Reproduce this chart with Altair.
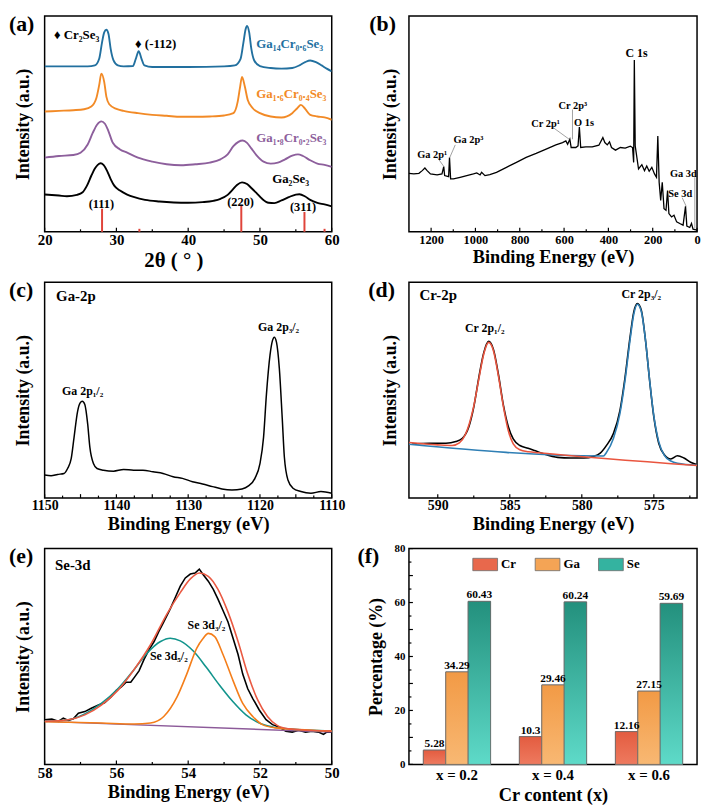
import altair as alt
import pandas as pd

FONT = "Liberation Serif"
W_L, W_R, H = 290, 291, 218
COL_GAP, ROW_GAP = 78, 51

# ---------------- (a) XRD ----------------
a_ticks_major = [20, 30, 40, 50, 60]
a_ticks_minor = [25, 35, 45, 55]
a_black = [(20.0,113),(22.0,110),(23.1,108),(24.5,112),(25.3,120),(25.9,140),(26.5,170),(27.0,192),(27.4,203),(27.8,208),
           (28.2,203),(28.7,185),(29.2,160),(29.7,140),(30.5,125),(31.5,113),(32.5,105),(34.0,97),(36.0,92),(38.0,89),
           (40.0,88),(42.0,90),(43.5,94),(44.5,100),(45.5,112),(46.2,128),(46.8,142),(47.5,150),(48.2,145),(48.8,133),
           (49.5,118),(50.3,100),(51.2,88),(52.0,87),(53.0,95),(54.0,105),(55.0,113),(55.5,114),(56.3,107),(57.0,97),
           (58.0,88),(59.0,83),(60.0,77)]
a_purple = [(20,225),(22,230),(24,233),(25,240),(26,265),(26.7,300),(27.3,325),(27.9,335),(28.4,328),(28.9,305),
            (29.5,270),(30.5,250),(31.5,240),(33,225),(35,213),(37,205),(39,202),(41,205),(43,210),(44.5,220),
            (45.5,235),(46.3,260),(47.0,273),(47.6,277),(48.2,270),(48.8,253),(49.5,233),(50.5,213),(51.5,207),
            (52.5,210),(53.5,220),(54.5,231),(55.3,235),(56,230),(57,217),(58,207),(59,203),(60,197)]
a_orange = [(20,365),(22,367),(24,369),(25.5,372),(26.5,380),(27.2,405),(27.6,445),(27.9,480),(28.3,455),(28.6,410),
            (29.0,387),(30,373),(31,367),(33,360),(35,355),(37,352),(39,349),(41,349),(43,350),(45,353),(46.3,360),
            (46.9,395),(47.2,435),(47.5,470),(47.9,440),(48.3,400),(49.0,375),(50,360),(51.5,350),(53,347),(54.5,360),
            (55.2,375),(55.7,385),(56.3,373),(57,355),(58,350),(59,347),(60,340)]
a_blue = [(20,502),(23,502),(26,502),(27,505),(27.6,525),(28.0,575),(28.3,605),(28.6,613),(28.9,600),(29.2,555),
          (29.6,520),(30.2,505),(31,502),(32.3,503),(32.7,525),(33.1,548),(33.5,525),(33.9,505),(35,500),(40,500),
          (45,502),(46.5,505),(47.3,525),(47.7,575),(48.0,615),(48.2,625),(48.5,605),(48.8,555),(49.2,520),(50,503),
          (51.5,497),(53,495),(54.5,497),(55.5,505),(56.3,515),(57.0,520),(57.8,515),(58.6,505),(59.3,495),(60,487)]
a_ref_pos = [28.0, 33.2, 47.4, 56.2, 59.0]
a_ref_h = [70, 9, 80, 60, 9]
a_texts = [(21.3, 596, "♦ Cr₂Se₃", "black"), (32.6, 569, "♦ (-112)", "black"),
           (49.5, 569, "Ga₁₄Cr₀.₆Se₃", "#22709f"), (49.5, 419, "Ga₁.₆Cr₀.₄Se₃", "#f28a26"),
           (49.5, 284, "Ga₁.₈Cr₀.₂Se₃", "#8d5f9c"), (51.7, 161, "Ga₂Se₃", "black")]
a_hkl = [(27.9, 84, "(111)"), (47.3, 90, "(220)"), (56.0, 76, "(311)")]

# ---------------- (b) XPS survey ----------------
b_ticks_major = [1200, 1000, 800, 600, 400, 200, 0]
b_ticks_minor = [1100, 900, 700, 500, 300, 100]
b_curve = [(1300,177),(1278,175),(1255,177),(1240,185),(1228,193),(1218,185),(1203,175),(1173,172),(1151,175),
           (1143,197),(1139,170),(1121,167),(1117,225),(1112,160),(1099,160),(1069,165),(1039,170),(1009,175),
           (994,178),(979,172),(972,180),(957,170),(935,173),(905,180),(860,195),(815,210),(771,225),(726,237),
           (681,250),(637,263),(607,270),(592,275),(584,265),(574,280),(568,255),(547,255),(537,260),(531,317),
           (525,255),(502,257),(473,257),(443,262),(425,285),(416,270),(405,263),(395,272),(386,255),(368,247),
           (346,255),(324,253),(301,259),(291,255),(286,210),(283,520),(279,260),(264,190),(249,203),(237,185),
           (227,199),(216,183),(204,195),(192,175),(183,165),(177,290),(171,150),(164,95),(157,150),(149,70),
           (140,65),(133,125),(127,55),(115,45),(104,50),(92,30),(78,25),(63,20),(52,77),(46,17),(33,13),(25,25),
           (18,8),(0,5)]
b_texts = [(1263, 233, "Ga 2p¹"), (1099, 277, "Ga 2p³"), (748, 325, "Cr 2p¹"), (625, 382, "Cr 2p³"),
           (555, 330, "O 1s"), (122, 175, "Ga 3d"), (130, 115, "Se 3d")]
b_c1s = [(323, 540, "C 1s")]
b_leaders = [(1170, 223, 1143, 198), (1091, 263, 1117, 223), (659, 320, 577, 280), (562, 370, 562, 280),
             (10, 165, 10, 10), (67, 103, 49, 77)]

# ---------------- (c) Ga-2p ----------------
c_ticks_major = [1150, 1145, 1140, 1135, 1130, 1125, 1120, 1115, 1110]
c_ticks_minor = [1147.5, 1142.5, 1137.5, 1132.5, 1127.5, 1122.5, 1117.5, 1112.5]
c_curve = [(1150.0,70),(1149.1,68),(1148.2,72),(1147.3,75),(1146.8,90),(1146.3,120),(1145.9,185),(1145.4,265),
           (1145.05,290),(1144.75,295),(1144.4,285),(1144.0,225),(1143.7,155),(1143.2,105),(1142.7,90),(1141.8,85),
           (1140.4,82),(1139.0,87),(1137.6,85),(1136.3,85),(1134.9,80),(1133.5,75),(1132.1,65),(1130.8,60),
           (1129.4,50),(1128.0,43),(1126.6,35),(1125.3,28),(1123.9,25),(1122.5,28),(1121.6,37),(1120.7,60),
           (1120.0,105),(1119.5,185),(1119.1,315),(1118.6,435),(1118.25,480),(1118.0,490),(1117.7,475),(1117.3,395),
           (1116.9,245),(1116.6,125),(1116.1,55),(1115.4,30),(1114.3,20),(1112.9,15),(1111.5,20),(1110.0,15)]
c_title = [(1148.4, 615, "Ga-2p")]
c_peaks = [(1144.7, 325, "Ga 2p₁/₂"), (1117.4, 520, "Ga 2p₃/₂")]

# ---------------- (d) Cr-2p ----------------
d_ticks_major = [590, 585, 580, 575]
d_ticks_minor = [587.5, 582.5, 577.5, 572.5]
d_data = [(591.8,164),(590.57,167),(589.43,167),(588.75,172),(588.29,182),(587.84,217),(587.5,277),(587.15,367),
          (586.81,442),(586.47,477),(586.13,452),(585.79,377),(585.44,282),(585.1,217),(584.76,180),(584.3,160),
          (583.73,152),(583.28,145),(582.6,134),(581.68,124),(580.77,122),(579.86,122),(579.17,127),(578.72,137),
          (578.26,162),(577.8,197),(577.35,267),(577.0,367),(576.66,487),(576.39,567),(576.14,592),(575.87,572),
          (575.57,477),(575.29,357),(575.0,247),(574.66,167),(574.27,132),(573.82,119),(573.36,129),(572.91,122),
          (572.45,109),(572.04,102)]
d_fit_12 = [(592.0,169),(590.0,162),(589.0,160),(588.5,168),(588.1,192),(587.8,228),(587.5,280),(587.15,362),
            (586.81,438),(586.47,474),(586.13,448),(585.79,372),(585.44,278),(585.1,205),(584.76,165),(584.3,147),
            (583.7,141),(583.0,138),(572.0,99)]
d_fit_32 = [(592.0,164),(578.5,128),(578.3,138),(577.8,182),(577.35,258),(577.0,358),(576.66,478),(576.39,560),
            (576.14,590),(575.87,568),(575.57,478),(575.29,358),(575.0,250),(574.66,172),(574.27,130),(573.82,113),
            (573.36,106),(572.0,100)]
d_title = [(591.26, 617, "Cr-2p")]
d_peaks = [(586.74, 517, "Cr 2p₁/₂"), (575.87, 622, "Cr 2p₃/₂")]

# ---------------- (e) Se-3d ----------------
e_ticks_major = [58, 56, 54, 52, 50]
e_ticks_minor = [57, 55, 53, 51]
e_data = [(58.0,137),(57.8,139),(57.62,132),(57.48,142),(57.34,135),(57.2,140),(57.06,157),(56.88,162),(56.7,172),
          (56.5,182),(56.33,189),(56.15,207),(56.0,227),(55.87,237),(55.73,252),(55.6,252),(55.5,267),(55.37,287),
          (55.23,322),(55.09,352),(54.95,377),(54.82,407),(54.68,437),(54.5,477),(54.36,512),(54.22,547),(54.08,572),
          (53.94,584),(53.81,587),(53.69,599),(53.58,582),(53.44,562),(53.3,537),(53.17,507),(53.03,472),(52.89,437),
          (52.75,387),(52.61,337),(52.48,277),(52.34,232),(52.2,202),(52.02,167),(51.83,137),(51.65,122),(51.47,115),
          (51.28,102),(51.1,99),(50.92,105),(50.73,99),(50.55,102),(50.37,99),(50.23,92),(50.14,99),(50.0,99)]
e_env = [(58,132),(57.34,137),(56.88,152),(56.42,182),(55.96,227),(55.5,292),(55.05,367),(54.59,462),(54.22,527),
         (53.94,569),(53.69,587),(53.44,577),(53.17,537),(52.89,467),(52.61,377),(52.34,277),(52.06,197),(51.79,147),
         (51.51,119),(51.19,109),(50.73,105),(50.0,102)]
e_d52 = [(58,132),(57.34,137),(56.88,155),(56.42,187),(55.96,232),(55.5,292),(55.14,342),(54.77,377),(54.5,387),
         (54.22,379),(53.85,347),(53.49,297),(53.12,242),(52.75,192),(52.39,152),(52.02,127),(51.65,115),(51.19,109),
         (50,102)]
e_d32 = [(58,131),(56.42,127),(55.5,124),(55.05,127),(54.68,147),(54.31,207),(54.04,277),(53.76,357),(53.58,387),
         (53.44,402),(53.26,392),(53.03,337),(52.75,257),(52.48,187),(52.2,147),(51.93,122),(51.56,112),(50.92,107),
         (50,102)]
e_base = [(58,132),(50,99)]
e_title = [(57.71, 612, "Se-3d")]
e_peaks = [(53.49, 427, "Se 3d₃/₂"), (54.54, 332, "Se 3d₅/₂")]

# ---------------- (f) composition ----------------
f_groups = ["x = 0.2", "x = 0.4", "x = 0.6"]
f_elements = ["Cr", "Ga", "Se"]
f_cr = [5.28, 10.3, 12.16]
f_ga = [34.29, 29.46, 27.15]
f_se = [60.43, 60.24, 59.69]
f_cr_txt = ["5.28", "10.3", "12.16"]
f_ga_txt = ["34.29", "29.46", "27.15"]
f_se_txt = ["60.43", "60.24", "59.69"]
f_ticks_major = list(range(0, 81, 10))
f_ticks_minor = list(range(5, 80, 10))
f_solid = ["#e8684c", "#f4a455", "#34b3a0"]
f_grad = {"Cr": ("#e35c40", "#ee7a5f"), "Ga": ("#f29a45", "#f8b873"), "Se": ("#23907d", "#5edac8")}


def df(pairs):
    return pd.DataFrame(pairs, columns=["x", "y"])


def line(pairs, color, width=1.6, interp="monotone"):
    return alt.Chart(df(pairs)).mark_line(color=color, strokeWidth=width, interpolate=interp, clip=True).encode(
        x="x:Q", y="y:Q")


def texts(items, size, align="left", color="black"):
    d = pd.DataFrame(items, columns=["x", "y", "t"])
    return alt.Chart(d).mark_text(font=FONT, fontWeight="bold", fontSize=size, align=align,
                                  baseline="middle", color=color).encode(x="x:Q", y="y:Q", text="t:N")


def xticks(values, length):
    return alt.Chart(pd.DataFrame({"x": values})).mark_rule(color="black", strokeWidth=1.2).encode(
        x="x:Q", y=alt.value(H), y2=alt.value(H - length))


def tag(label, dx):
    return alt.Chart(pd.DataFrame({"t": [label]})).mark_text(
        font=FONT, fontWeight="bold", fontSize=22, align="left", baseline="top").encode(
        x=alt.value(dx), y=alt.value(-2), text="t:N")


def xaxis(title, values, size, tsize=18.5, lpad=1, **kw):
    return alt.Axis(title=title, values=values, format="d", labelFontSize=size, titleFontSize=tsize,
                    labelPadding=lpad, titlePadding=2, **kw)


def yaxis_int(pad):
    return alt.Axis(title="Intensity (a.u.)", labels=False, titleFontSize=18, titlePadding=pad)


def base_enc(domain, ymax, xax, ypad, reverse=False):
    return dict(
        x=alt.X("x:Q", scale=alt.Scale(domain=domain, nice=False, zero=False, reverse=reverse), axis=xax),
        y=alt.Y("y:Q", scale=alt.Scale(domain=[0, ymax], nice=False, zero=False), axis=yaxis_int(ypad)))


# ----- panel a -----
a_ref_df = pd.DataFrame({"x": a_ref_pos, "y": a_ref_h, "y0": [0] * len(a_ref_pos)})
pa_first = alt.Chart(df(a_black)).mark_line(color="black", strokeWidth=1.9, interpolate="monotone").encode(
    **base_enc([20, 60], 655, xaxis("2θ ( ° )", a_ticks_major, 15, tsize=21, titleX=130), 12))
pa = alt.layer(
    pa_first,
    line(a_purple, "#8d5f9c", 1.9), line(a_orange, "#f28a26", 1.9), line(a_blue, "#22709f", 1.9),
    alt.Chart(a_ref_df).mark_rule(color="#e0443a", strokeWidth=2).encode(x="x:Q", y="y0:Q", y2="y:Q"),
    xticks(a_ticks_major, 4), xticks(a_ticks_minor, 2.5),
    *[texts([(x, y, t)], 13, color=c) for x, y, t, c in a_texts],
    texts(a_hkl, 12.5, align="center"),
    tag("(a)", -36),
).properties(width=W_L, height=H)

# ----- panel b -----
b_lead_df = pd.DataFrame(b_leaders, columns=["x", "y", "x2", "y2"])
pb_first = alt.Chart(df(b_curve)).mark_line(color="black", strokeWidth=1.3).encode(
    **base_enc([0, 1300], 653, xaxis("Binding Energy (eV)", b_ticks_major, 12.5, lpad=2), 10, reverse=True))
pb = alt.layer(
    pb_first,
    alt.Chart(b_lead_df).mark_rule(color="#8a8a8a", strokeWidth=0.8).encode(x="x:Q", y="y:Q", x2="x2:Q", y2="y2:Q"),
    xticks(b_ticks_major, 4), xticks(b_ticks_minor, 2.5),
    texts(b_texts, 10.5), texts(b_c1s, 12),
    tag("(b)", -40),
).properties(width=W_R, height=H)

# ----- panel c -----
pc_first = alt.Chart(df(c_curve)).mark_line(color="black", strokeWidth=1.5, interpolate="monotone").encode(
    **base_enc([1110, 1150], 657, xaxis("Binding Energy (eV)", c_ticks_major, 14), 12, reverse=True))
pc = alt.layer(
    pc_first,
    xticks(c_ticks_major, 4), xticks(c_ticks_minor, 2.5),
    texts(c_title, 15), texts(c_peaks, 12, align="center"),
    tag("(c)", -36),
).properties(width=W_L, height=H)

# ----- panel d -----
pd_first = alt.Chart(df(d_data)).mark_line(color="black", strokeWidth=1.6, interpolate="monotone").encode(
    **base_enc([572, 592], 657, xaxis("Binding Energy (eV)", d_ticks_major, 14), 10, reverse=True))
pdd = alt.layer(
    pd_first,
    line(d_fit_32, "#2f7fb5", 1.6), line(d_fit_12, "#e9553f", 1.6),
    xticks(d_ticks_major, 4), xticks(d_ticks_minor, 2.5),
    texts(d_title, 15), texts(d_peaks, 12, align="center"),
    tag("(d)", -41),
).properties(width=W_R, height=H)

# ----- panel e -----
pe_first = alt.Chart(df(e_data)).mark_line(color="black", strokeWidth=1.6).encode(
    **base_enc([50, 58], 662, xaxis("Binding Energy (eV)", e_ticks_major, 15), 12, reverse=True))
pe = alt.layer(
    pe_first,
    line(e_base, "#8c5a99", 1.4, "linear"), line(e_d52, "#12948c", 1.6), line(e_d32, "#f47e1a", 1.6),
    line(e_env, "#ea5a43", 1.6),
    xticks(e_ticks_major, 4), xticks(e_ticks_minor, 2.5),
    texts(e_title, 15), texts(e_peaks, 12, align="center"),
    tag("(e)", -36),
).properties(width=W_L, height=H)

# ----- panel f -----
rows = []
for el, vals, labs in (("Cr", f_cr, f_cr_txt), ("Ga", f_ga, f_ga_txt), ("Se", f_se, f_se_txt)):
    for g, v, t in zip(f_groups, vals, labs):
        rows.append({"group": g, "element": el, "pct": v, "label": t})
fdf = pd.DataFrame(rows)

# legend sits inside panel (f); legend coordinates are relative to the first panel's origin
LEG_X = W_L + COL_GAP + 64
LEG_Y = 2 * (H + ROW_GAP) + 3

fx = alt.X("group:N", scale=alt.Scale(domain=f_groups, paddingInner=0.3, paddingOuter=0.15),
           axis=alt.Axis(title="Cr content (x)", labelAngle=0, labelFontSize=15, labelPadding=3,
                         titleFontSize=18.5, titlePadding=3))
fxo = alt.XOffset("element:N", scale=alt.Scale(domain=f_elements, paddingInner=0, paddingOuter=0))
fy = alt.Y("pct:Q", scale=alt.Scale(domain=[0, 80], nice=False),
           axis=alt.Axis(title="Percentage (%)", values=f_ticks_major, labelFontSize=11, labelPadding=4,
                         titleFontSize=18, titlePadding=9))
f_solid_bars = alt.Chart(fdf).mark_bar(stroke="#6a6a6a", strokeWidth=0.8).encode(
    x=fx, xOffset=fxo, y=fy,
    color=alt.Color("element:N", scale=alt.Scale(domain=f_elements, range=f_solid),
                    legend=alt.Legend(title=None, orient="none", legendX=LEG_X, legendY=LEG_Y,
                                      direction="horizontal",
                                      symbolType="M-1,-0.5H1V0.5H-1Z", symbolSize=625, symbolStrokeColor="#6a6a6a",
                                      symbolStrokeWidth=0.8, symbolOpacity=1, labelFont=FONT,
                                      labelFontWeight="bold", labelFontSize=13, labelOffset=3, columnPadding=16)))
f_grad_layers = []
for el in f_elements:
    top, bot = f_grad[el]
    f_grad_layers.append(
        alt.Chart(fdf).transform_filter(alt.datum.element == el).mark_bar(
            fill=alt.Gradient(gradient="linear", stops=[alt.GradientStop(color=top, offset=0),
                                                        alt.GradientStop(color=bot, offset=1)],
                              x1=0, x2=0, y1=0, y2=1),
            stroke="#6a6a6a", strokeWidth=0.8).encode(x="group:N", xOffset="element:N", y="pct:Q"))
f_labels = alt.Chart(fdf).mark_text(font=FONT, fontWeight="bold", fontSize=11.5, baseline="bottom", dy=-1).encode(
    x="group:N", xOffset="element:N", y="pct:Q", text="label:N")
f_ytick_major = alt.Chart(pd.DataFrame({"pct": f_ticks_major})).mark_rule(color="black", strokeWidth=1.2).encode(
    y="pct:Q", x=alt.value(0), x2=alt.value(4))
f_ytick_minor = alt.Chart(pd.DataFrame({"pct": f_ticks_minor})).mark_rule(color="black", strokeWidth=1.2).encode(
    y="pct:Q", x=alt.value(0), x2=alt.value(2.5))
pf = alt.layer(f_solid_bars, *f_grad_layers, f_labels, f_ytick_major, f_ytick_minor, tag("(f)", -52)
               ).properties(width=W_R, height=H)

chart = alt.concat(pa, pb, pc, pdd, pe, pf, columns=2, spacing={"row": ROW_GAP, "column": COL_GAP},
                   bounds="flush").properties(
    padding=0
).configure_axis(
    labelFont=FONT, titleFont=FONT, labelFontWeight="bold", titleFontWeight="bold",
    labelColor="black", titleColor="black", grid=False, domain=False, ticks=False,
    labelFlush=False, labelOverlap=False, minExtent=0
).configure_view(stroke="black", strokeWidth=1.5)

chart.save("out.html", embed_options={"renderer": "svg", "actions": False})
